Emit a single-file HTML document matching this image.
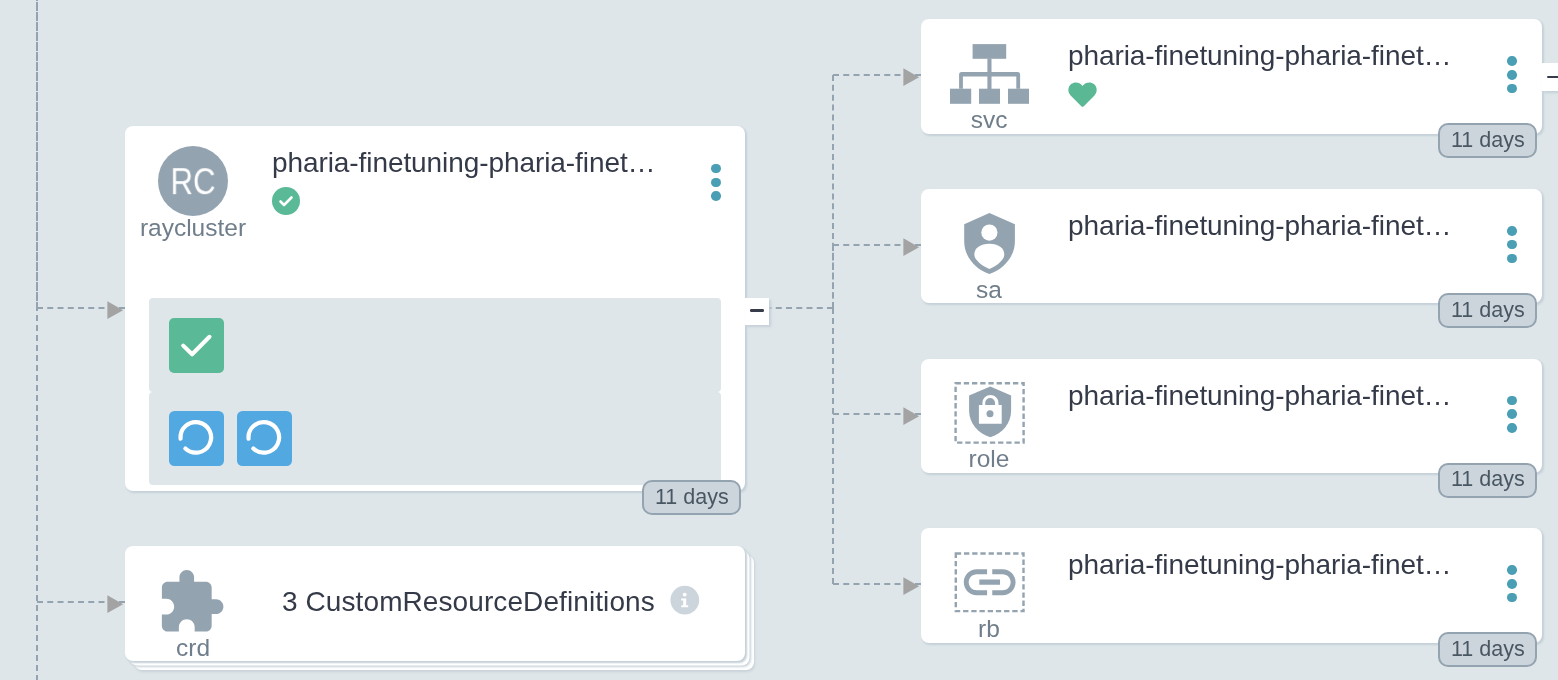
<!DOCTYPE html>
<html><head><meta charset="utf-8">
<style>
*{box-sizing:border-box}
html,body{margin:0;padding:0}
body{width:1558px;height:680px;overflow:hidden;position:relative;background:#dee6e9;font-family:"Liberation Sans",sans-serif;-webkit-font-smoothing:antialiased}
.title,.kind,.badge span{will-change:transform}
.abs{position:absolute}
.card{position:absolute;background:#fff;border-radius:8px;box-shadow:1.5px 1.5px 2px #c5d0d8}
.title{position:absolute;font-size:28px;color:#343a48;white-space:nowrap;line-height:1;letter-spacing:-0.08px}
.kind{position:absolute;font-size:24.5px;color:#6f7e8a;white-space:nowrap;line-height:1;text-align:center;width:140px}
.dots{position:absolute;width:10px;height:38px}
.dots i{position:absolute;left:0;width:9.5px;height:9.5px;border-radius:50%;background:#4a9fb4}
.badge{position:absolute;width:99px;height:35px;border:2px solid #93a3b0;background:#cdd5dc;border-radius:10px;font-size:21.5px;color:#495763;line-height:1;white-space:nowrap}
.badge span{position:absolute;left:11px;top:4.5px}
.panel{position:absolute;background:#dee6e9;border-radius:4px}
.sq{position:absolute;width:55px;height:55px;border-radius:5px}
.collapse{position:absolute;background:#fff;box-shadow:1.5px 1.5px 2.5px #c5d0d8}
.collapse i{position:absolute;height:2.4px;border-radius:1.2px;background:#363c4a}
</style></head><body>

<svg class="abs" style="left:0;top:0" width="1558" height="680" viewBox="0 0 1558 680">
  <g fill="none" stroke="#93a3b0" stroke-width="2">
<path d="M37 308 V0" stroke-dasharray="6 4" stroke-dashoffset="0"/>
<path d="M37 308 V0" stroke-dasharray="6 4" stroke-dashoffset="3"/>
<path d="M37 305 V680" stroke-dasharray="6 4"/>
<path d="M37 308 L125 308" stroke-dasharray="6.0 4.250"/>
<path d="M37 602 L125 602" stroke-dasharray="6.0 4.250"/>
<path d="M745 308 L833 308" stroke-dasharray="6.0 4.250"/>
<path d="M833 308 L833 75" stroke-dasharray="6.0 3.870"/>
<path d="M833 75 L921 75" stroke-dasharray="6.0 4.250"/>
<path d="M833 308 L833 245" stroke-dasharray="6.0 3.500"/>
<path d="M833 245 L921 245" stroke-dasharray="6.0 4.250"/>
<path d="M833 308 L833 414" stroke-dasharray="6.0 4.000"/>
<path d="M833 414 L921 414" stroke-dasharray="6.0 4.250"/>
<path d="M833 308 L833 584" stroke-dasharray="6.0 4.000"/>
<path d="M833 584 L921 584" stroke-dasharray="6.0 4.250"/>
</g>
  <g fill="#a3a3a3">
    <path d="M107.35 301.2 L123.1 310.3 L107.35 318.9Z"/>
    <path d="M107.35 595.2 L123.1 604.3 L107.35 612.9Z"/>
    <path d="M903.35 68.2 L919.1 77.3 L903.35 85.9Z"/>
    <path d="M903.35 238.2 L919.1 247.3 L903.35 255.9Z"/>
    <path d="M903.35 407.2 L919.1 416.3 L903.35 424.9Z"/>
    <path d="M903.35 577.2 L919.1 586.3 L903.35 594.9Z"/>
  </g>
</svg>

<!-- RC card -->
<div class="card" style="left:125px;top:126px;width:620px;height:365px"></div>
<div class="abs" style="left:158px;top:146px;width:70px;height:70px;border-radius:50%;background:#93a3b0"></div>
<div class="abs" style="left:158px;top:164.5px;width:70px;text-align:center;color:#fff;font-size:34px;line-height:1;will-change:transform;transform:scale(0.92,1.06);transform-origin:50% 28.8px">RC</div>
<div class="kind" style="left:123px;top:215.5px">raycluster</div>
<div class="title" style="left:272px;top:149px">pharia-finetuning-pharia-finet…</div>
<svg class="abs" style="left:272px;top:187px" width="28" height="28" viewBox="0 0 28 28"><circle cx="14" cy="14" r="14" fill="#5ab996"/><path d="M8.5 14.5 L12 18 L19.5 10.5" fill="none" stroke="#fff" stroke-width="2.6" stroke-linecap="round" stroke-linejoin="round"/></svg>
<div class="dots" style="left:711.2px;top:163.8px"><i style="top:0"></i><i style="top:13.8px"></i><i style="top:27.6px"></i></div>
<div class="panel" style="left:149px;top:298px;width:572px;height:94px"></div>
<div class="panel" style="left:149px;top:392px;width:572px;height:93px"></div>
<svg class="abs" style="left:169px;top:318px" width="55" height="55" viewBox="0 0 55 55"><rect width="55" height="55" rx="5" fill="#5ab996"/><path d="M14.2 27.6 L23.1 36.3 L40.5 18.8" fill="none" stroke="#fff" stroke-width="4.1" stroke-linecap="round" stroke-linejoin="round"/></svg>
<svg class="abs" style="left:169px;top:411px" width="55" height="55" viewBox="0 0 55 55"><rect width="55" height="55" rx="5.5" fill="#52a8e0"/><path d="M11.56 27.76 A15.3 15.3 0 1 1 16.35 37.57" fill="none" stroke="#fff" stroke-width="4.2" stroke-linecap="round"/></svg>
<svg class="abs" style="left:237px;top:411px" width="55" height="55" viewBox="0 0 55 55"><rect width="55" height="55" rx="5.5" fill="#52a8e0"/><path d="M11.56 27.76 A15.3 15.3 0 1 1 16.35 37.57" fill="none" stroke="#fff" stroke-width="4.2" stroke-linecap="round"/></svg>
<div class="badge" style="left:642px;top:480px"><span>11 days</span></div>
<div class="collapse" style="left:745px;top:298px;width:24px;height:27px"><i style="left:5px;top:11.3px;width:14px"></i></div>

<!-- CRD card -->
<div class="card" style="left:125px;top:546px;width:620px;height:115px;box-shadow:1.5px 1.5px 2px #c5d0d8,4.5px 4.5px 0 0 #fff,5.5px 5.8px 2.5px #c8d2d9,9px 9px 0 0 #fff,10px 10.3px 2.5px #c8d2d9"></div>
<svg class="abs" style="left:0;top:0" width="1558" height="680"><path fill="#93a3b0" transform="translate(156 567.1) scale(2.93)" d="M20.5 11H19V7c0-1.1-.9-2-2-2h-4V3.5C13 2.12 11.88 1 10.5 1S8 2.12 8 3.5V5H4c-1.1 0-1.99.9-1.99 2v3.8H3.5c1.49 0 2.7 1.21 2.7 2.7s-1.21 2.7-2.7 2.7H2V20c0 1.1.9 2 2 2h3.8v-1.5c0-1.49 1.21-2.7 2.7-2.7 1.49 0 2.7 1.21 2.7 2.7V22H17c1.1 0 2-.9 2-2v-4h1.5c1.38 0 2.5-1.12 2.5-2.5S21.88 11 20.5 11z"/></svg>
<div class="kind" style="left:123px;top:636px">crd</div>
<div class="title" style="left:282px;top:588px;letter-spacing:0.09px">3 CustomResourceDefinitions</div>
<svg class="abs" style="left:669px;top:584px" width="32" height="32" viewBox="0 0 32 32"><circle cx="15.8" cy="16.1" r="14.4" fill="#cdd5dc"/><circle cx="15.7" cy="10.6" r="1.9" fill="#fff"/><path d="M12.2 14.6 H17.2 V21.2 H19.2 V23.2 H12.2 V21.2 H14.2 V16.4 H12.2Z" fill="#fff"/></svg>

<!-- right cards -->
<div class="card" style="left:921px;top:19.2px;width:621px;height:114.6px"></div>
<div class="kind" style="left:919px;top:107.8px">svc</div>
<div class="title" style="left:1068px;top:42.4px">pharia-finetuning-pharia-finet…</div>
<div class="dots" style="left:1507.2px;top:56.4px"><i style="top:0"></i><i style="top:13.8px"></i><i style="top:27.6px"></i></div>
<div class="badge" style="left:1438px;top:123.4px;height:35px"><span>11 days</span></div>
<div class="card" style="left:921px;top:188.9px;width:621px;height:114.6px"></div>
<div class="kind" style="left:919px;top:277.5px">sa</div>
<div class="title" style="left:1068px;top:212.1px">pharia-finetuning-pharia-finet…</div>
<div class="dots" style="left:1507.2px;top:226.1px"><i style="top:0"></i><i style="top:13.8px"></i><i style="top:27.6px"></i></div>
<div class="badge" style="left:1438px;top:293.1px;height:35px"><span>11 days</span></div>
<div class="card" style="left:921px;top:358.5px;width:621px;height:114.6px"></div>
<div class="kind" style="left:919px;top:447.1px">role</div>
<div class="title" style="left:1068px;top:381.7px">pharia-finetuning-pharia-finet…</div>
<div class="dots" style="left:1507.2px;top:395.7px"><i style="top:0"></i><i style="top:13.8px"></i><i style="top:27.6px"></i></div>
<div class="badge" style="left:1438px;top:462.7px;height:35px"><span>11 days</span></div>
<div class="card" style="left:921px;top:528.2px;width:621px;height:114.6px"></div>
<div class="kind" style="left:919px;top:616.8px">rb</div>
<div class="title" style="left:1068px;top:551.4px">pharia-finetuning-pharia-finet…</div>
<div class="dots" style="left:1507.2px;top:565.4px"><i style="top:0"></i><i style="top:13.8px"></i><i style="top:27.6px"></i></div>
<div class="badge" style="left:1438px;top:632.4px;height:35px"><span>11 days</span></div>
<div class="collapse" style="left:1542px;top:63px;width:24px;height:27.5px"><i style="left:4.5px;top:12.6px;width:14px"></i></div>


<svg class="abs" style="left:0;top:0" width="1558" height="680" viewBox="0 0 1558 680">
  <!-- svc sitemap -->
  <g fill="#93a3b0">
    <rect x="972.6" y="44.1" width="33.6" height="14.7"/>
    <rect x="987.4" y="58.5" width="4.1" height="30.5"/>
    <path d="M959.1 88.7 V74.5 Q959.1 72 961.6 72 H1017.6 Q1020.1 72 1020.1 74.5 V88.7 H1016.3 V76.5 H962.9 V88.7Z"/>
    <rect x="950" y="88.7" width="21.2" height="15.1"/>
    <rect x="979" y="88.7" width="21" height="15.1"/>
    <rect x="1008" y="88.7" width="21" height="15.1"/>
  </g>
  <!-- sa shield person -->
  <path fill="#93a3b0" d="M989.4 212.9 L964.2 224.3 V241.4 C964.2 256 975 269.5 989.4 273.9 C1003.8 269.5 1014.9 256 1014.9 241.4 V224.3Z"/>
  <circle cx="989.4" cy="232.6" r="8.1" fill="#fff"/>
  <path fill="#fff" d="M989.4 243.8 C980.5 243.8 974.3 248 974.3 254.5 C974.3 259.5 981 265.5 989.4 268.9 C997.8 265.5 1004.3 259.5 1004.3 254.5 C1004.3 248 998.3 243.8 989.4 243.8Z"/>
  <!-- role -->
  <rect x="955.6" y="383.2" width="68" height="59.4" fill="none" stroke="#93a3b0" stroke-width="2.4" stroke-dasharray="5.3 2.9"/>
  <path fill="#93a3b0" d="M990.3 386.4 L969.1 395.5 V410.8 C969.1 423 978 433.5 990.3 437.3 C1002.6 433.5 1011.1 423 1011.1 410.8 V395.5Z"/>
  <path fill="#fff" d="M982.4 405 V403 A8.05 8.05 0 0 1 998.5 403 V405 H1001.7 V423.8 H978.9 V405Z M985.2 405 H995 V403 A4.9 4.9 0 0 0 985.2 403Z"/>
  <circle cx="990" cy="413.8" r="3.5" fill="#93a3b0"/>
  <!-- rb -->
  <rect x="955.8" y="553.5" width="67.7" height="57.6" fill="none" stroke="#93a3b0" stroke-width="2.4" stroke-dasharray="5.3 2.9"/>
  <path fill="#93a3b0" transform="translate(958.6 551.1) scale(2.59)" d="M3.9 12c0-1.71 1.39-3.1 3.1-3.1h4V7H7c-2.76 0-5 2.24-5 5s2.24 5 5 5h4v-1.9H7c-1.71 0-3.1-1.39-3.1-3.1zM8 13h8v-2H8v2zm9-6h-4v1.9h4c1.71 0 3.1 1.39 3.1 3.1s-1.39 3.1-3.1 3.1h-4V17h4c2.76 0 5-2.24 5-5s-2.24-5-5-5z"/>
  <!-- heart -->
  <path fill="#5ab894" transform="translate(1068.4 80.65) scale(0.05527 0.05458)" d="M462.3 62.6C407.5 15.9 326 24.3 275.7 76.2L256 96.5l-19.7-20.3C186.1 24.3 104.5 15.9 49.7 62.6c-62.8 53.6-66.1 149.8-9.9 207.9l193.5 199.8c12.5 12.9 32.8 12.9 45.3 0l193.5-199.8c56.3-58.1 53-154.3-9.8-207.9z"/>
</svg>
</body></html>
